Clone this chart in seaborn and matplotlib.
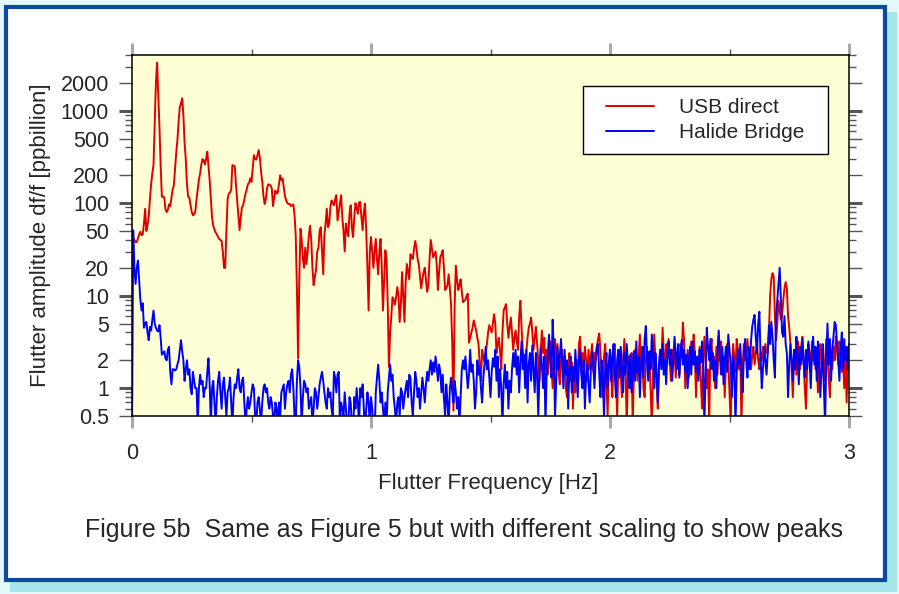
import numpy as np
import pandas as pd
import matplotlib
matplotlib.use("Agg")
import matplotlib.pyplot as plt
import seaborn as sns
from matplotlib.patches import Rectangle, FancyBboxPatch
from matplotlib.lines import Line2D
from matplotlib.ticker import FixedLocator, NullFormatter

# ---------------- data ----------------
FREQ_STEP = 0.005  # Hz between samples, 0 .. 3 Hz

usb_direct = [
    45, 42, 40, 38, 38, 42, 46, 49, 45, 46,
    60, 87, 50, 58, 72, 110, 160, 210, 260, 700,
    2000, 3300, 1500, 650, 250, 117, 118, 115, 85, 80,
    85, 97, 93, 115, 140, 155, 230, 350, 480, 750,
    1100, 1200, 1360, 900, 450, 300, 160, 117, 115, 95,
    80, 74, 76, 82, 110, 140, 180, 210, 260, 300,
    290, 262, 300, 360, 250, 177, 110, 70, 57, 52,
    48, 46, 43, 41, 40, 39, 30, 20, 20, 50,
    110, 127, 130, 140, 258, 255, 250, 160, 107, 75,
    51, 70, 90, 95, 110, 127, 140, 160, 166, 186,
    170, 240, 330, 300, 295, 330, 375, 310, 220, 170,
    120, 98, 110, 145, 160, 158, 155, 145, 93, 115,
    137, 127, 130, 160, 200, 177, 185, 150, 120, 107,
    100, 98, 98, 93, 95, 97, 75, 45, 12, 2.1,
    15, 53, 40, 25, 20, 33, 22, 30, 45, 57,
    40, 20, 13, 16, 19, 30, 33, 50, 55, 30,
    17, 45, 60, 87, 55, 60, 90, 107, 100, 95,
    110, 122, 65, 80, 100, 122, 70, 50, 30, 60,
    50, 44, 77, 95, 55, 43, 70, 100, 90, 77,
    102, 103, 70, 51, 80, 99, 50, 20, 6.9, 30,
    43, 30, 20, 30, 41, 25, 17, 30, 41, 20,
    6.9, 15, 31, 25, 8, 1.7, 4, 6, 9.6, 9,
    8, 9.6, 12.4, 10, 5.2, 8, 18, 10, 5.2, 14,
    22, 18, 15, 28, 26, 25, 32, 39, 33, 25,
    22, 16, 12, 15, 18, 20, 15, 11, 13, 25,
    40, 32, 26, 28, 30, 22, 11.5, 18, 26, 28,
    31, 20, 11.5, 12, 13, 17, 12, 8, 3, 0.57,
    8, 21, 15, 11.5, 13, 15, 11, 8.5, 8.8, 9,
    10, 10.5, 3.1, 3.5, 4, 4.5, 5.4, 4.8, 4.2, 3.5,
    3, 1.8, 1.2, 2.6, 2.2, 1.9, 2.4, 3, 4, 4.8,
    4.4, 4, 5, 6.3, 5, 2.4, 3, 3.5, 2.5, 1.6,
    4, 6.9, 7.5, 8.1, 5, 3.5, 4.5, 5.8, 4, 2.6,
    3.5, 4.2, 3.2, 2.6, 6, 8.8, 4.5, 2.6, 2, 1.7,
    2.5, 3.5, 4.5, 5, 5.8, 4, 2.6, 3.5, 4.6, 3,
    2, 1.2, 2.5, 4.2, 2.4, 3.5, 1.6, 2.6, 1.4, 2.2,
    3.2, 1.8, 1.0, 2.2, 3.4, 1.6, 3.0, 1.5, 1.1, 2.0,
    2.6, 1.4, 2.2, 1.0, 0.8, 1.6, 2.4, 1.2, 1.9, 0.6,
    1.4, 0.9, 2.0, 1.3, 3.0, 3.6, 1.5, 2.4, 1.7, 2.8,
    2.0, 1.2, 2.6, 1.6, 2.2, 3.0, 1.5, 2.4, 2.0, 2.8,
    3.4, 3.9, 2.5, 1.3, 0.8, 2.2, 3.0, 1.2, 0.5, 1.8,
    2.5, 1.3, 0.8, 2.2, 3.0, 1.2, 0.5, 1.8, 2.6, 1.4,
    0.8, 2.0, 3.4, 1.6, 0.4, 1.4, 2.2, 1.0, 2.4, 0.4,
    1.5, 2.6, 1.8, 1.2, 2.2, 3.8, 1.6, 2.4, 1.0, 0.8,
    2.0, 2.8, 1.5, 2.2, 0.9, 0.4, 1.2, 3.8, 2.0, 1.1,
    0.6, 1.6, 2.6, 1.8, 4.5, 2.4, 1.5, 3.0, 2.2, 3.4,
    2.0, 1.2, 2.6, 1.8, 2.8, 1.3, 2.4, 2.0, 1.4, 3.0,
    2.2, 5.1, 3.2, 1.0, 1.6, 2.6, 1.3, 2.0, 3.2, 1.8,
    3.8, 2.4, 0.8, 2.0, 1.4, 2.8, 1.2, 0.6, 1.8, 3.6,
    2.2, 1.0, 1.6, 0.4, 2.6, 3.4, 1.6, 2.2, 1.0, 2.8,
    1.4, 3.6, 2.0, 3.2, 1.4, 2.2, 0.8, 1.8, 3.0, 2.0,
    0.9, 0.4, 1.6, 3.0, 2.2, 1.5, 3.4, 2.6, 1.6, 2.4,
    0.4, 1.8, 3.0, 2.0, 2.4, 3.4, 2.2, 2.6, 1.6, 2.2,
    2.8, 1.8, 2.4, 3.0, 2.0, 1.6, 2.4, 2.0, 2.8, 2.2,
    3.0, 2.4, 2.4, 4.0, 10, 15, 17.5, 16, 6, 3.3,
    5, 8.8, 7, 5.5, 6, 9, 12, 14, 12, 6,
    4.5, 3.0, 1.6, 0.8, 2.0, 2.6, 1.4, 3.2, 2.4, 1.6,
    2.8, 3.6, 2.0, 1.0, 0.6, 1.8, 3.0, 2.4, 1.5, 3.2,
    2.0, 2.6, 1.6, 2.2, 0.9, 2.4, 3.0, 1.8, 2.6, 1.2,
    2.0, 3.4, 2.2, 1.4, 0.8, 2.4, 1.6, 2.8, 2.0, 3.6,
    2.6, 1.8, 3.2, 2.4, 1.5, 2.2, 1.0, 2.6, 0.7, 2.0,
    3.0,
]

halide_bridge = [
    0.3, 51, 20, 13.4, 20, 24, 14.6, 9, 6.9, 8.3,
    4.5, 5, 5.2, 4, 3.3, 4.6, 4.2, 5.5, 6.9, 5,
    4.5, 4.2, 4.1, 4.8, 3.5, 2.3, 2.4, 2.5, 2.1, 2.0,
    2.6, 2.8, 1.5, 1.1, 1.6, 1.6, 1.55, 1.6, 1.8, 2.0,
    2.6, 3.3, 2.5, 2.0, 1.2, 1.6, 2.0, 1.4, 1.6, 1.0,
    0.86, 1.5, 1.2, 1.0, 1.0, 0.4, 1.0, 1.4, 1.1, 1.2,
    0.8, 1.0, 1.0, 1.5, 2.1, 1.1, 0.4, 1.0, 1.2, 0.7,
    0.4, 0.8, 1.2, 1.5, 0.9, 0.6, 1.1, 1.3, 0.8, 0.5,
    0.9, 1.0, 1.3, 0.7, 0.4, 0.8, 1.1, 1.0, 1.3, 1.6,
    1.0, 0.9, 1.2, 1.3, 0.7, 0.4, 0.6, 0.8, 0.6, 0.7,
    0.9, 1.1, 1.0, 0.5, 0.4, 0.7, 0.8, 0.6, 0.4, 0.7,
    1.0, 1.1, 0.9, 1.0, 0.7, 0.6, 0.8, 0.7, 0.5, 0.4,
    0.7, 0.6, 0.4, 0.7, 0.5, 0.9, 1.0, 1.1, 0.6, 0.9,
    1.1, 1.2, 0.9, 1.4, 1.6, 1.0, 0.5, 0.4, 1.2, 2.0,
    1.7, 1.0, 0.4, 0.8, 1.2, 1.1, 0.9, 1.0, 0.6, 0.7,
    0.8, 0.4, 0.6, 1.0, 0.9, 0.6, 0.8, 1.1, 1.3, 1.5,
    1.2, 0.9, 0.7, 0.6, 1.0, 0.8, 0.9, 0.6, 0.5, 1.5,
    1.3, 0.9, 1.4, 1.5, 0.4, 0.7, 0.6, 0.5, 0.9, 0.6,
    0.4, 0.4, 0.8, 0.7, 0.4, 0.3, 0.8, 0.6, 1.0, 0.7,
    0.4, 1.0, 0.8, 1.1, 0.6, 0.3, 0.6, 0.9, 0.7, 0.4,
    0.8, 0.6, 0.4, 0.3, 0.9, 1.3, 1.8, 1.2, 0.7, 0.9,
    0.6, 0.4, 0.7, 0.4, 0.9, 1.3, 1.8, 1.2, 1.4, 0.8,
    0.6, 0.4, 0.7, 0.8, 0.5, 1.0, 0.9, 0.6, 0.8, 1.0,
    1.2, 0.8, 1.4, 1.3, 0.7, 0.5, 0.9, 1.5, 1.2, 0.8,
    1.0, 0.6, 0.9, 1.3, 1.0, 0.7, 1.1, 1.5, 1.2, 1.6,
    2.0, 1.4, 1.9, 1.5, 2.2, 1.7, 1.2, 1.8, 1.5, 0.9,
    1.4, 0.8, 0.5, 1.1, 0.7, 0.4, 1.0, 1.3, 0.9, 0.7,
    1.2, 0.9, 0.6, 0.8, 0.4, 0.8, 1.6, 2.0, 1.6, 2.2,
    1.5, 1.0, 1.4, 2.6, 1.5, 1.8, 1.2, 0.6, 0.9, 2.0,
    1.4, 1.7, 1.0, 0.7, 1.3, 1.8, 2.8, 1.6, 2.0, 1.3,
    0.8, 1.5, 2.1, 1.7, 2.6, 1.2, 2.2, 0.8, 1.6, 1.0,
    0.4, 1.1, 1.8, 1.0, 1.5, 0.6, 1.2, 0.9, 1.6, 2.4,
    1.7, 2.6, 1.4, 2.2, 0.9, 1.9, 3.2, 1.6, 2.3, 1.0,
    2.6, 0.7, 1.8, 2.4, 1.2, 2.9, 1.6, 0.9, 2.4, 1.4,
    0.5, 1.5, 2.7, 1.8, 1.0, 2.2, 0.4, 1.5, 2.4, 3.8,
    2.0, 1.3, 5.5, 2.5, 0.5, 1.2, 2.8, 1.6, 2.2, 3.4,
    1.8, 1.0, 2.6, 1.4, 2.0, 0.6, 1.6, 2.2, 0.9, 1.7,
    1.2, 2.6, 1.5, 0.8, 1.9, 2.6, 1.4, 1.0, 2.0, 0.6,
    1.4, 1.8, 1.1, 0.7, 1.6, 2.5, 1.8, 1.0, 2.0, 2.8,
    3.0, 1.4, 0.8, 2.0, 1.2, 0.5, 1.6, 2.4, 1.0, 1.8,
    2.6, 1.2, 2.2, 3.0, 1.4, 0.8, 2.0, 2.6, 1.3, 2.8,
    1.6, 0.9, 2.4, 1.4, 3.0, 1.8, 1.0, 2.3, 0.9, 1.7,
    2.5, 1.2, 3.2, 1.5, 2.2, 0.8, 1.8, 2.8, 1.3, 3.4,
    4.7, 2.0, 1.2, 2.5, 1.6, 3.8, 2.2, 1.0, 2.4, 1.5,
    0.7, 1.8, 2.6, 1.6, 3.0, 1.4, 2.0, 1.1, 2.4, 3.2,
    1.8, 2.6, 1.2, 2.0, 3.6, 2.4, 1.6, 3.0, 1.3, 2.2,
    3.3, 1.8, 2.6, 1.5, 2.3, 1.0, 2.0, 2.8, 1.4, 3.2,
    1.8, 2.5, 1.5, 2.2, 1.2, 2.6, 1.9, 3.2, 1.6, 0.4,
    1.5, 4.5, 2.8, 2.0, 3.4, 1.6, 2.4, 1.2, 2.0, 1.0,
    2.6, 4.2, 2.2, 1.4, 2.8, 1.1, 2.0, 2.8, 1.5, 3.8,
    2.6, 1.8, 0.8, 2.2, 1.6, 0.4, 1.4, 2.6, 1.8, 3.0,
    1.5, 0.9, 2.2, 3.4, 2.0, 1.3, 2.8, 1.6, 3.2, 4.6,
    5.5, 6.2, 3.5, 2.4, 5.0, 6.7, 2.2, 1.0, 1.6, 2.8,
    2.0, 1.4, 2.4, 4.8, 3.0, 5.2, 3.6, 2.0, 1.3, 6.0,
    9, 14, 20, 9, 4, 3.6, 6, 3, 2.4, 0.8,
    1.8, 3.0, 2.0, 1.2, 2.6, 1.6, 3.6, 2.2, 1.1, 2.8,
    1.8, 3.4, 2.0, 1.3, 2.6, 1.6, 3.2, 2.0, 1.0, 2.4,
    3.6, 1.8, 2.8, 1.2, 3.2, 2.0, 0.8, 1.6, 3.0, 1.0,
    0.4, 2.2, 5.0, 1.8, 3.4, 1.2, 2.6, 3.6, 5.2, 4.8,
    3.0, 2.0, 1.2, 2.6, 4.0, 1.6, 3.4, 2.0, 2.8, 1.6,
    3.0,
]

series_names = ["USB direct", "Halide Bridge"]
series_colors = ["#E00000", "#0000FF"]

y_tick_values = [0.5, 1, 2, 5, 10, 20, 50, 100, 200, 500, 1000, 2000]
y_tick_labels = ["0.5", "1", "2", "5", "10", "20", "50", "100", "200", "500", "1000", "2000"]
y_decades = [1, 10, 100, 1000]
y_minor_values = [0.6, 0.7, 0.8, 0.9, 3, 4, 6, 7, 8, 9, 30, 40, 60, 70, 80, 90,
                  300, 400, 600, 700, 800, 900, 3000, 4000]
x_tick_values = [0, 1, 2, 3]
x_tick_labels = ["0", "1", "2", "3"]
x_minor_values = [0.5, 1.5, 2.5]

x_label = "Flutter Frequency [Hz]"
y_label = "Flutter amplitude df/f [ppbillion]"
caption = "Figure 5b  Same as Figure 5 but with different scaling to show peaks"

# ---------------- build table ----------------
freq = np.arange(len(usb_direct)) * FREQ_STEP
df = pd.concat([
    pd.DataFrame({"freq": freq, "amp": usb_direct, "series": series_names[0]}),
    pd.DataFrame({"freq": np.arange(len(halide_bridge)) * FREQ_STEP,
                  "amp": halide_bridge, "series": series_names[1]}),
], ignore_index=True)

# ---------------- style ----------------
sns.set_style("ticks")
plt.rcParams["font.family"] = ["Liberation Sans", "DejaVu Sans"]

W, H = 899, 594
fig = plt.figure(figsize=(W / 100, H / 100), dpi=100)
fig.patch.set_facecolor("#E2F8F9")

# drop shadow + blue frame
fig.patches.append(Rectangle((10 / W, 2 / H), 887 / W, 580 / H,
                             transform=fig.transFigure, facecolor="#A6E6EA",
                             edgecolor="none", zorder=-10))
fig.patches.append(Rectangle((5.5 / W, 14.5 / H), 879 / W, 573 / H,
                             transform=fig.transFigure, facecolor="white",
                             edgecolor="#0B4A9C", linewidth=3.0, zorder=-9))

ax = fig.add_axes([132 / W, (H - 416) / H, 717 / W, 361 / H])
ax.set_facecolor("#FFFFD6")

sns.lineplot(data=df, x="freq", y="amp", hue="series", hue_order=series_names,
             palette=dict(zip(series_names, series_colors)), estimator=None,
             sort=False, linewidth=1.4, legend=False, ax=ax)

ax.set_yscale("log")
ax.set_xlim(0, 3)
ax.set_ylim(0.5, 4000)
ax.set_xlabel("")
ax.set_ylabel("")

ax.yaxis.set_major_locator(FixedLocator(y_tick_values))
ax.yaxis.set_minor_locator(FixedLocator(y_minor_values))
ax.set_yticklabels(y_tick_labels)
ax.yaxis.set_minor_formatter(NullFormatter())
ax.xaxis.set_major_locator(FixedLocator(x_tick_values))
ax.xaxis.set_minor_locator(FixedLocator(x_minor_values))
ax.set_xticklabels(x_tick_labels)

for s in ax.spines.values():
    s.set_visible(True)
    s.set_color("black")
    s.set_linewidth(1.1)

ax.tick_params(axis="y", which="major", direction="out", length=9.5, width=1.0,
               color="#555555", left=True, right=True, labelleft=True,
               labelright=False, labelsize=15.5, pad=7)
ax.tick_params(axis="y", which="minor", direction="out", length=5, width=1.0,
               color="#555555", left=True, right=True)
ax.tick_params(axis="x", which="major", direction="out", length=8.5, width=2.2,
               color="#A8A8A8", bottom=True, top=True, labelbottom=True,
               labeltop=False, labelsize=15.5, pad=11)
ax.tick_params(axis="x", which="minor", direction="out", length=4.5, width=1.0,
               color="#555555", bottom=True, top=True)

for val, t in zip(y_tick_values, ax.yaxis.get_major_ticks()):
    if val in y_decades:
        for ln in (t.tick1line, t.tick2line):
            ln.set_color("#A8A8A8")
            ln.set_markeredgewidth(2.2)

# legend
handles = [Line2D([], [], color=c, linewidth=1.4) for c in series_colors]
ax.add_patch(Rectangle(((583 - 132) / 717, (416 - 154) / 361), 245 / 717, 68 / 361,
                       transform=ax.transAxes, facecolor="white", edgecolor="black",
                       linewidth=1.0, zorder=4))
leg = ax.legend(handles, series_names, loc="center",
                bbox_to_anchor=((705.5 - 132) / 717, (416 - 120) / 361),
                frameon=False, fontsize=15, handlelength=2.3, handletextpad=1.2,
                labelspacing=0.3, borderpad=0.0)
leg.set_zorder(5)

# labels & caption
fig.text(41 / W, 1 - 235 / H, y_label, rotation=90, ha="center", va="center", fontsize=16)
fig.text(488 / W, 1 - 483 / H, x_label, ha="center", va="center", fontsize=16)
fig.text(464 / W, 1 - 530 / H, caption, ha="center", va="center", fontsize=18)

fig.savefig("out.png", dpi=100, facecolor=fig.get_facecolor())
